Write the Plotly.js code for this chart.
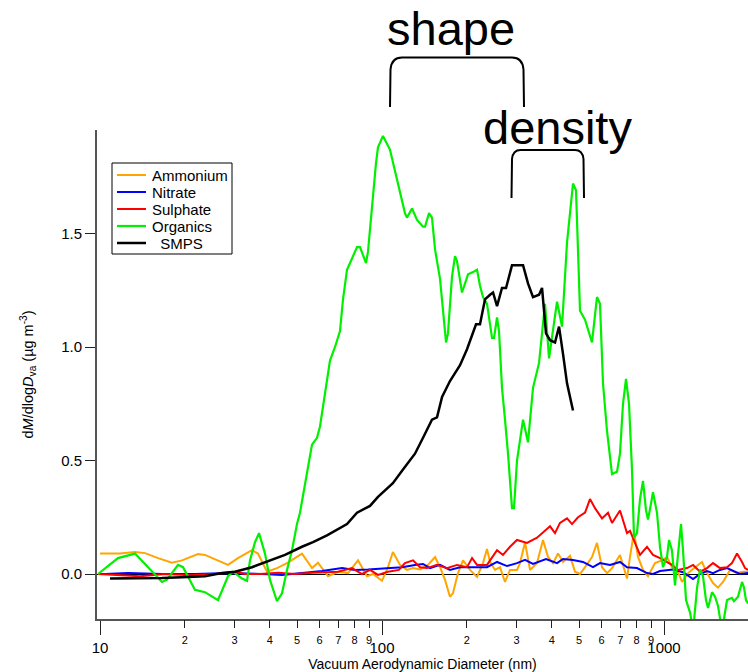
<!DOCTYPE html>
<html>
<head>
<meta charset="utf-8">
<script src="https://cdn.plot.ly/plotly-3.0.1.min.js"></script>
<style>html,body{margin:0;padding:0;background:#fff;}#chart{width:748px;height:672px;}</style>
</head>
<body>
<div id="chart"></div>
<script>
// ---- data: [diameter (nm), dM/dlogDva (ug m-3)] ----
const ammonium = [[10.0,0.09],[11.77,0.09],[13.31,0.097],[14.45,0.092],[16.06,0.07],[18.00,0.05],[19.54,0.06],[22.26,0.088],[23.56,0.084],[26.21,0.06],[28.44,0.04],[30.85,0.07],[34.59,0.105],[36.33,0.09],[39.10,0.01],[42.43,0.026],[46.41,0.05],[52.03,0.09],[56.47,0.026],[59.30,0.05],[64.34,-0.01],[69.81,0.01],[75.76,0.004],[82.21,0.06],[88.47,-0.01],[92.91,0.0],[100.0,-0.03],[105.0,0.03],[109.3,0.097],[115.8,0.04],[122.6,0.018],[128.8,0.026],[136.4,0.02],[145.6,0.04],[154.2,0.075],[160.6,0.03],[167.3,-0.026],[174.2,-0.10],[178.5,-0.085],[186.0,0.004],[193.8,0.06],[205.2,0.018],[217.3,-0.013],[228.1,0.048],[235.7,0.11],[241.6,0.053],[251.7,0.018],[262.1,0.03],[273.0,-0.035],[284.4,0.018],[301.1,0.018],[308.6,0.048],[321.5,0.14],[334.9,0.018],[354.6,0.048],[372.4,0.15],[387.9,0.075],[404.1,0.048],[420.9,0.09],[438.4,0.053],[464.2,0.08],[483.6,0.01],[503.7,0.0],[524.7,0.03],[555.5,0.075],[578.6,0.137],[602.8,0.03],[627.9,0.004],[654.1,0.026],[698.2,0.084],[739.3,-0.02],[757.6,0.075],[782.7,0.185],[808.7,0.075],[842.5,0.018],[877.6,-0.01],[929.2,0.048],[983.9,0.06],[1025,0.075],[1067,0.03],[1112,0.018],[1159,-0.035],[1217,0.004],[1289,0.03],[1364,0.053],[1421,0.004],[1492,-0.04],[1554,-0.06],[1619,-0.035],[1714,0.018],[1815,0.004],[1906,0.01],[1986,0.01]];

const nitrate = [[9.84,0.0],[10.42,0.0],[12.57,0.004],[16.59,0.0],[21.72,0.0],[28.44,0.004],[37.54,0.0],[44.20,-0.004],[52.03,0.004],[61.27,0.013],[72.14,0.026],[80.22,0.018],[89.20,0.02],[102.5,0.026],[117.7,0.03],[130.9,0.04],[139.8,0.044],[148.0,0.026],[160.6,0.04],[174.2,0.018],[189.1,0.03],[205.2,0.03],[235.7,0.03],[255.8,0.053],[277.5,0.035],[301.1,0.048],[321.5,0.062],[343.2,0.044],[381.6,0.066],[417.5,0.048],[438.4,0.066],[475.7,0.062],[516.2,0.053],[560.1,0.03],[593.0,0.048],[643.5,0.04],[698.2,0.053],[739.3,0.03],[802.1,0.026],[870.4,0.004],[914.1,0.0],[967.9,0.013],[1076,0.02],[1168,0.008],[1268,-0.022],[1342,0.0],[1421,0.013],[1492,0.004],[1580,0.018],[1673,0.026],[1757,0.013],[1860,0.0],[1986,0.004]];

const sulphate = [[9.84,0.0],[11.30,-0.005],[13.87,-0.01],[17.00,0.0],[20.85,-0.005],[25.57,0.0],[30.10,0.01],[32.68,0.0],[36.93,0.0],[42.77,0.005],[49.15,0.0],[56.47,0.005],[64.34,0.01],[69.81,0.01],[78.28,0.026],[84.94,0.0],[90.66,0.018],[96.78,-0.004],[105.0,0.01],[114.8,0.018],[120.6,0.048],[128.8,0.06],[136.4,0.03],[144.4,0.026],[156.7,0.04],[170.0,0.026],[184.4,0.04],[200.2,0.03],[208.6,0.07],[217.3,0.04],[235.7,0.04],[245.6,0.07],[255.8,0.105],[268.6,0.084],[284.4,0.12],[301.1,0.15],[326.7,0.137],[354.6,0.16],[378.5,0.19],[394.3,0.21],[410.7,0.18],[427.8,0.225],[453.0,0.245],[471.9,0.22],[495.5,0.25],[524.7,0.27],[546.5,0.33],[569.3,0.29],[602.8,0.245],[633.0,0.27],[654.1,0.225],[698.2,0.28],[739.3,0.18],[757.6,0.19],[789.2,0.137],[822.1,0.084],[870.4,0.12],[914.1,0.084],[967.9,0.07],[1025,0.053],[1067,0.04],[1121,0.018],[1207,0.026],[1268,0.04],[1342,0.01],[1421,0.026],[1492,0.048],[1580,0.026],[1673,0.03],[1742,0.048],[1815,0.09],[1891,0.053],[1938,0.026],[1986,0.018]];

const organics = [[9.84,0.0],[11.58,0.07],[13.31,0.09],[15.29,0.01],[16.59,-0.035],[17.28,-0.025],[18.91,0.04],[19.70,0.03],[21.72,-0.07],[23.56,-0.08],[24.95,-0.10],[26.21,-0.115],[28.44,-0.01],[29.62,0.01],[31.89,-0.02],[33.21,-0.03],[34.03,0.06],[35.45,0.14],[36.63,0.18],[38.47,0.09],[40.07,-0.026],[41.74,-0.10],[42.43,-0.12],[44.20,-0.085],[46.04,0.018],[47.96,0.105],[49.95,0.22],[51.19,0.27],[52.46,0.35],[54.65,0.47],[56.47,0.57],[58.82,0.60],[60.27,0.65],[61.77,0.74],[63.81,0.855],[65.40,0.94],[68.13,1.00],[70.97,1.07],[72.73,1.21],[75.14,1.34],[78.28,1.39],[81.54,1.44],[83.56,1.44],[87.76,1.37],[89.20,1.42],[92.16,1.63],[95.21,1.81],[96.78,1.88],[100.8,1.93],[106.7,1.87],[113.9,1.72],[120.6,1.59],[122.6,1.57],[127.8,1.61],[133.1,1.56],[139.8,1.53],[142.1,1.53],[146.8,1.59],[150.4,1.57],[154.2,1.43],[160.6,1.30],[164.6,1.15],[168.7,1.02],[171.4,1.06],[177.1,1.31],[181.5,1.40],[184.4,1.38],[192.2,1.24],[197.0,1.28],[201.9,1.32],[210.3,1.33],[217.3,1.34],[222.6,1.27],[228.1,1.22],[235.7,1.19],[245.6,1.04],[249.6,1.04],[255.8,1.13],[260.0,1.07],[266.4,0.82],[273.0,0.68],[279.8,0.53],[289.1,0.29],[293.8,0.29],[301.1,0.50],[308.6,0.60],[316.3,0.68],[329.4,0.58],[343.2,0.82],[360.5,0.93],[378.5,1.19],[391.1,0.95],[417.5,1.20],[434.9,1.09],[453.0,1.46],[475.7,1.72],[487.5,1.69],[503.7,1.16],[524.7,1.12],[555.5,1.02],[578.6,1.22],[593.0,1.19],[607.7,0.84],[627.9,0.63],[654.1,0.44],[681.3,0.45],[698.2,0.53],[715.5,0.75],[733.3,0.86],[751.5,0.75],[770.1,0.46],[782.7,0.16],[802.1,0.18],[822.1,0.33],[842.5,0.41],[863.4,0.28],[877.6,0.24],[899.3,0.31],[914.1,0.36],[944.4,0.27],[967.9,0.12],[991.9,0.03],[1025,0.075],[1042,0.15],[1067,0.105],[1094,-0.05],[1121,0.075],[1149,0.22],[1168,0.105],[1197,-0.115],[1237,-0.17],[1268,-0.25],[1310,-0.06],[1342,0.02],[1375,-0.01],[1409,-0.115],[1433,-0.15],[1480,-0.08],[1517,-0.10],[1554,-0.14],[1606,-0.25],[1673,-0.115],[1742,-0.105],[1771,-0.12],[1830,-0.10],[1891,-0.035],[1922,-0.06],[1953,-0.115],[1986,-0.13]];

const smps = [[10.85,-0.02],[13.87,-0.02],[16.59,-0.018],[20.52,-0.013],[23.56,-0.01],[27.08,0.004],[30.10,0.01],[34.59,0.03],[39.42,0.055],[45.29,0.084],[52.03,0.12],[56.93,0.14],[63.81,0.17],[75.14,0.22],[81.54,0.27],[90.66,0.30],[96.78,0.34],[109.3,0.40],[118.7,0.46],[130.9,0.53],[139.8,0.60],[150.4,0.68],[156.7,0.69],[163.3,0.78],[174.2,0.85],[189.1,0.92],[200.2,0.99],[210.3,1.07],[215.5,1.10],[222.6,1.10],[231.9,1.21],[241.6,1.23],[247.6,1.24],[255.8,1.18],[266.4,1.26],[275.3,1.26],[289.1,1.36],[303.6,1.36],[316.3,1.36],[329.4,1.28],[343.2,1.22],[360.5,1.23],[369.4,1.26],[381.6,1.06],[394.3,1.03],[410.7,1.02],[424.4,1.09],[438.4,0.97],[453.0,0.84],[475.7,0.72]];

const seriesNames = ["Ammonium", "Nitrate", "Sulphate", "Organics", "\u00a0\u00a0SMPS"];
const majorTicks = [10, 100, 1000];
const majorLabels = ["10", "100", "1000"];
const minorTicks = [20,30,40,50,60,70,80,90,200,300,400,500,600,700,800,900,2000];
const minorLabels = ["2","3","4","5","6","7","8","9","2","3","4","5","6","7","8","9","2"];
const yTicks = [0, 0.5, 1.0, 1.5];
const yLabels = ["0.0", "0.5", "1.0", "1.5"];

// ---- layout geometry ----
const M = {l: 97, r: 0, t: 130, b: 53};
const W = 748, H = 672;
const PW = W - M.l - M.r, PH = H - M.t - M.b;
const px = x => (x - M.l) / PW;          // pixel -> paper x
const py = y => (H - M.b - y) / PH;      // pixel -> paper y

function bracket(xl, xr, yb, yt, r) {
  return `M ${px(xl)} ${py(yb)} L ${px(xl + 0.5)} ${py(yt + r)} Q ${px(xl + 1.5)} ${py(yt)} ${px(xl + r)} ${py(yt)}` +
         ` L ${px(xr - r)} ${py(yt)} Q ${px(xr - 1.5)} ${py(yt)} ${px(xr - 0.5)} ${py(yt + r)} L ${px(xr)} ${py(yb)}`;
}

const colors = ["#FFA500", "#0000FF", "#FF0000", "#00F000", "#000000"];
const sets = [ammonium, nitrate, sulphate, organics, smps];
const widths = [2, 2, 2, 2.2, 2.5];
const traces = sets.map((s, i) => ({
  type: "scatter", mode: "lines",
  x: s.map(p => p[0]), y: s.map(p => p[1]),
  name: seriesNames[i],
  line: {color: colors[i], width: widths[i]},
  xaxis: "x", yaxis: "y", showlegend: false, hoverinfo: "skip"
}));
// empty trace that carries the minor-tick axis
traces.push({type: "scatter", mode: "lines", x: [], y: [], xaxis: "x2", yaxis: "y", showlegend: false, hoverinfo: "skip"});

const font = "Liberation Sans, Arial, Helvetica, sans-serif";
const xr = [Math.log10(10) - 3/282, 1 + (748 - 100)/282];

// legend built from the series names and colours
const legendRows = [175, 192, 209, 226, 243];
const legendShapes = [{type: "rect", xref: "paper", yref: "paper", x0: px(112), x1: px(232), y0: py(163), y1: py(254),
  line: {color: "#000", width: 1}, fillcolor: "#fff", layer: "above"}];
const legendTexts = [];
seriesNames.forEach((n, i) => {
  legendShapes.push({type: "line", xref: "paper", yref: "paper", x0: px(117), x1: px(146), y0: py(legendRows[i]), y1: py(legendRows[i]),
    line: {color: colors[i], width: widths[i]}, layer: "above"});
  legendTexts.push({xref: "paper", yref: "paper", x: px(150), y: py(legendRows[i]), text: n, showarrow: false,
    xanchor: "left", yanchor: "middle", font: {size: 15, family: font, color: "#000"}});
});

const layout = {
  width: W, height: H,
  margin: {l: M.l, r: M.r, t: M.t, b: M.b, pad: 0},
  paper_bgcolor: "#fff", plot_bgcolor: "#fff",
  font: {family: font, color: "#000", size: 14},
  showlegend: false,
  xaxis: {
    type: "log", range: xr,
    tickmode: "array", tickvals: majorTicks, ticktext: majorLabels,
    ticks: "outside", ticklen: 14, tickwidth: 1, tickcolor: "#222",
    showline: true, linecolor: "#555", linewidth: 2,
    showgrid: false, zeroline: false,
    tickfont: {size: 15},
    title: {text: "Vacuum Aerodynamic Diameter (nm)", font: {size: 14}, standoff: 1}
  },
  xaxis2: {
    type: "log", range: xr, overlaying: "x", anchor: "y", side: "bottom",
    tickmode: "array", tickvals: minorTicks, ticktext: minorLabels,
    ticks: "outside", ticklen: 8, tickwidth: 1, tickcolor: "#222",
    ticklabelstandoff: 3,
    showline: false, showgrid: false, zeroline: false,
    tickfont: {size: 11}
  },
  yaxis: {
    range: [(574 - 619)/227, (574 - 130)/227],
    tickmode: "array", tickvals: yTicks, ticktext: yLabels,
    ticks: "outside", ticklen: 10, tickwidth: 1, tickcolor: "#222",
    showline: true, linecolor: "#555", linewidth: 2,
    showgrid: false, zeroline: true, zerolinecolor: "#000", zerolinewidth: 1,
    tickfont: {size: 15},
    title: {text: "d<i>M</i>/dlog<i>D</i><sub>va</sub> (µg m<sup>-3</sup>)", font: {size: 14.5}, standoff: 24}
  },
  annotations: [
    {xref: "paper", yref: "paper", x: px(451), y: py(29), text: "shape", showarrow: false,
     font: {size: 47, family: font, color: "#000"}, xanchor: "center", yanchor: "middle"},
    {xref: "paper", yref: "paper", x: px(557), y: py(127), text: "density", showarrow: false,
     font: {size: 47, family: font, color: "#000"}, xanchor: "center", yanchor: "middle"}
  ].concat(legendTexts),
  shapes: [
    {type: "path", xref: "paper", yref: "paper", path: bracket(390, 524, 107, 57.5, 12), line: {color: "#000", width: 2}},
    {type: "path", xref: "paper", yref: "paper", path: bracket(511.5, 584, 198, 150, 9), line: {color: "#000", width: 2}}
  ].concat(legendShapes)
};

Plotly.newPlot("chart", traces, layout, {staticPlot: true, displayModeBar: false});
</script>
</body>
</html>
